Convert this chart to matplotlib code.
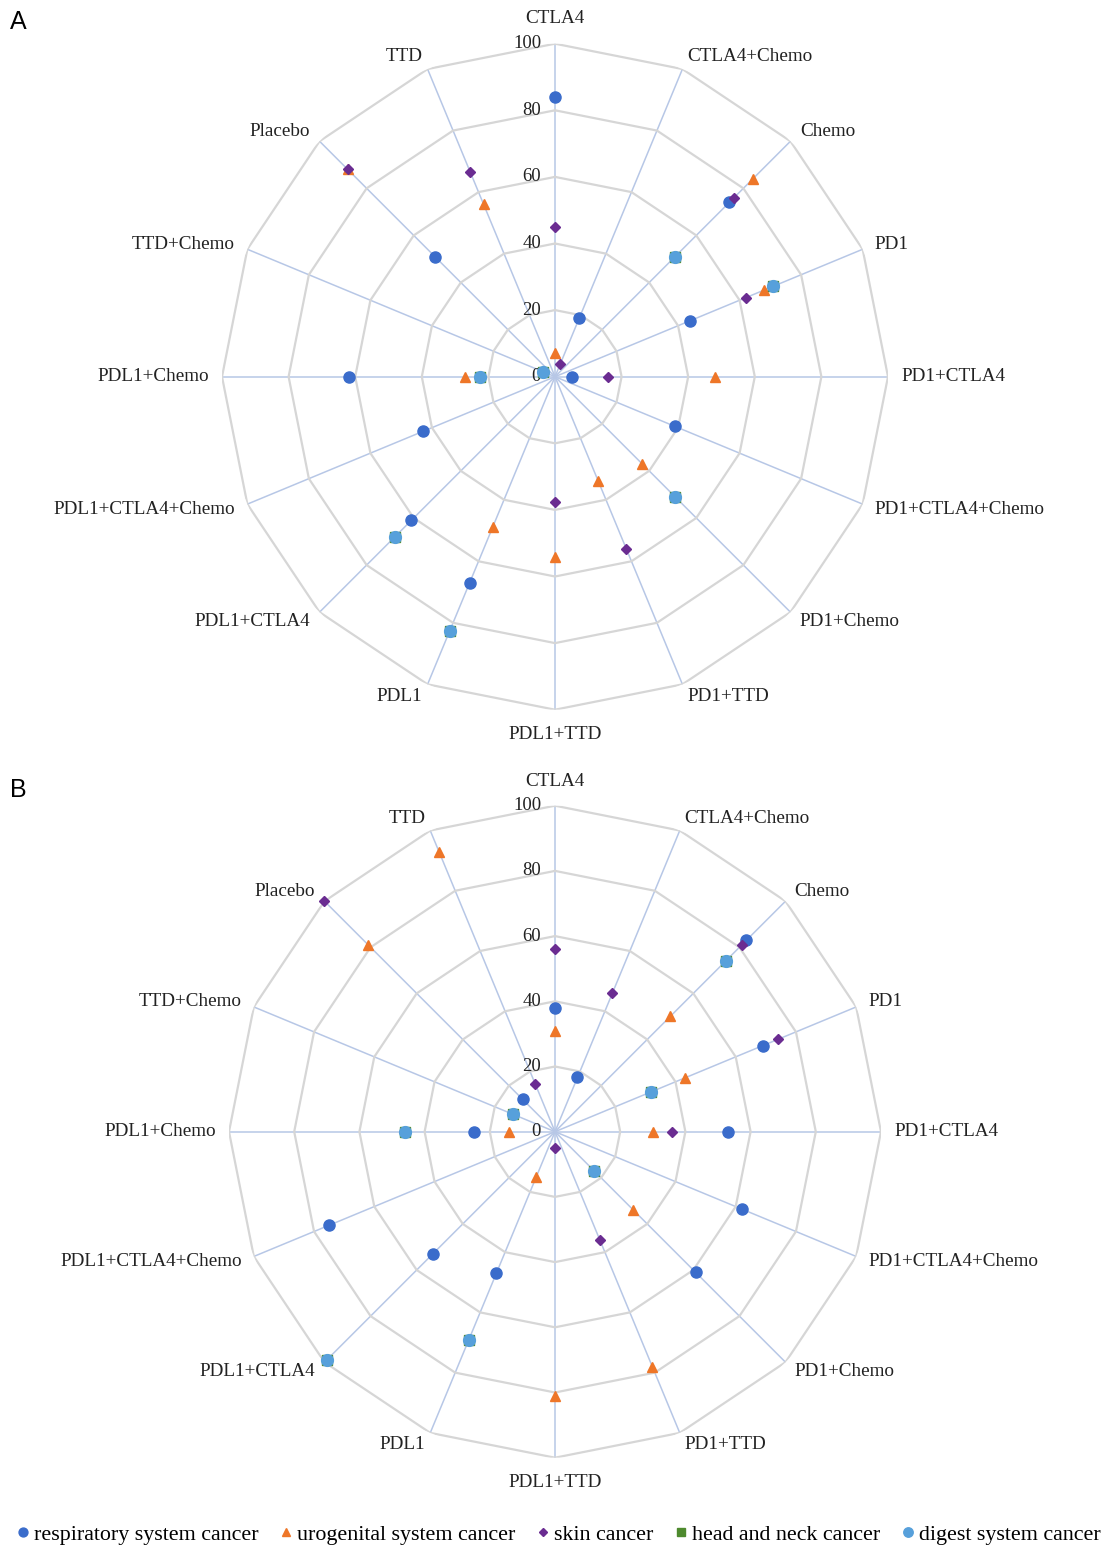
import numpy as np
import matplotlib
matplotlib.use("Agg")
import matplotlib.pyplot as plt
from matplotlib.lines import Line2D

nan = np.nan
categories = ["CTLA4", "CTLA4+Chemo", "Chemo", "PD1", "PD1+CTLA4", "PD1+CTLA4+Chemo",
              "PD1+Chemo", "PD1+TTD", "PDL1+TTD", "PDL1", "PDL1+CTLA4",
              "PDL1+CTLA4+Chemo", "PDL1+Chemo", "TTD+Chemo", "Placebo", "TTD"]
series_names = ["respiratory system cancer", "urogenital system cancer", "skin cancer",
                "head and neck cancer", "digest system cancer"]
radial_ticks = [0, 20, 40, 60, 80, 100]

# Panel A
A_resp = [84, 19, 74, 44, 5, 39, nan, nan, nan, 67, 61, 43, 62, nan, 51, nan]
A_uro = [7, nan, 84, 68, 48, nan, 37, 34, 54, 49, nan, nan, 27, nan, 88, 56]
A_skin = [45, 4, 76, 62, 16, nan, nan, 56, 37.5, nan, nan, nan, nan, nan, 88, 66.5]
A_hn = [nan, nan, 51, 71, nan, nan, 51, nan, nan, 82.5, 68, nan, 22.5, 4, nan, nan]
A_dig = [nan, nan, 51, 71, nan, nan, 51, nan, nan, 82.5, 68, nan, 22.5, 4, nan, nan]

# Panel B
B_resp = [38, 18, 83, 69, 53, 62, 61, nan, nan, 47, 53, 75, 25, nan, 14, nan]
B_uro = [31, nan, 50, 43, 30, nan, 34, 78, 81, 15, nan, nan, 14, nan, 81, 93]
B_skin = [56, 46, 81, 74, 36, nan, nan, 36, 5, nan, nan, nan, nan, nan, 100, 16]
B_hn = [nan, nan, 74, 32, nan, nan, 17, nan, nan, 69, 99, nan, 46, 14, nan, nan]
B_dig = [nan, nan, 74, 32, nan, nan, 17, nan, nan, 69, 99, nan, 46, 14, nan, nan]

colors = ["#3A6CCB", "#EE7628", "#6A2C91", "#4E8A2E", "#57A0DB"]
markers = ["o", "^", "D", "s", "o"]
msizes = [8, 7.5, 5, 7, 8.5]

SERIF = "Liberation Serif"
GRID = "#D6D6D6"
SPOKE = "#B7C7E6"

W, H = 1114, 1549
fig = plt.figure(figsize=(W / 100, H / 100), dpi=100)


def make_panel(cx, cy, R, data, letter, letter_xy):
    ax = fig.add_axes([(cx - R) / W, 1 - (cy + R) / H, 2 * R / W, 2 * R / H],
                      projection="polar")
    ax.set_theta_zero_location("N")
    ax.set_theta_direction(-1)
    ax.set_ylim(0, 100)
    ax.axis("off")
    n = len(categories)
    theta = np.arange(n) * 2 * np.pi / n
    tc = np.append(theta, theta[0])
    # spokes
    for t in theta:
        ax.plot([t, t], [0, 100], color=SPOKE, lw=1.1, zorder=1)
    # polygon grid
    for r in radial_ticks[1:]:
        ax.plot(tc, [r] * (n + 1), color=GRID, lw=1.6, zorder=1.5)
    # radial labels
    for r in radial_ticks:
        ax.annotate(str(r), (0, r), xytext=(-10, 0), textcoords="offset points",
                    ha="right", va="center", fontsize=13.5, family=SERIF, color="#222222")
    # category labels
    for t, lab in zip(theta, categories):
        s, c = np.sin(t), np.cos(t)
        if abs(s) < 0.05:
            ax.text(t, 107.5, lab, ha="center", va="center", fontsize=13.8,
                    family=SERIF, color="#222222")
        else:
            ax.text(t, 104, lab, ha="left" if s > 0 else "right", va="center",
                    fontsize=13.8, family=SERIF, color="#222222")
    # series
    for i, vals in enumerate(data):
        ax.plot(theta, vals, linestyle="none", marker=markers[i], ms=msizes[i],
                color=colors[i], markeredgecolor=colors[i], zorder=3 + i, clip_on=False)
    fig.text(letter_xy[0] / W, 1 - letter_xy[1] / H, letter, fontsize=18,
             family="Liberation Sans", ha="left", va="center")
    return ax


make_panel(555, 376.7, 333, [A_resp, A_uro, A_skin, A_hn, A_dig], "A", (10, 22))
make_panel(555, 1131.7, 326, [B_resp, B_uro, B_skin, B_hn, B_dig], "B", (10, 790))

handles = [Line2D([], [], linestyle="none", marker=markers[i], ms=msizes[i] * 0.8,
                  color=colors[i]) for i in range(5)]
fig.legend(handles, series_names, loc="center", bbox_to_anchor=(0.5, 1 - 1535 / H),
           ncol=5, frameon=False, prop={"family": SERIF, "size": 15.8},
           handletextpad=0.05, columnspacing=0.8, handlelength=0.9)

fig.savefig("out.png", dpi=100)
